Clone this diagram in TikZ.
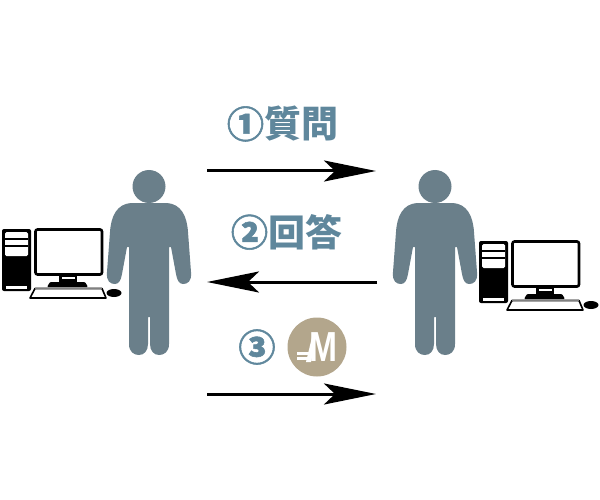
\documentclass[tikz,border=0pt]{standalone}
\usepackage{fontspec}
\newfontfamily\cjk{Noto Sans CJK JP}
\newfontfamily\cjkring[FakeBold=1.5]{Noto Sans CJK JP}
\newfontfamily\coinfont{Liberation Sans}
\usetikzlibrary{arrows.meta}
\definecolor{personc}{HTML}{6A7F8A}
\definecolor{labelc}{HTML}{5F879C}
\definecolor{coinc}{HTML}{B3A68C}
\tikzset{
    msg/.style={line width=3pt,-{Stealth[length=52pt,width=21pt,inset=11pt]}},
    lab/.style={text=labelc,font=\cjk\bfseries\fontsize{37}{37}\selectfont,inner sep=0pt},
    person/.pic={
        \fill[personc] (0,186.5) circle (16.5);
        \fill[personc] (-1,203) -- (18,203) .. controls (32,204) and (38,216) .. (39,232)
            -- (42,272) .. controls (43,282) and (38,284) .. (34,284)
            .. controls (30,284) and (28,280) .. (27,274) -- (22,247) -- (20,247) -- (20,344)
            .. controls (20,352) and (15,355) .. (10,355) .. controls (5,355) and (1,351) .. (1,344)
            -- (1,317) -- (-1,317) -- (-1,344) .. controls (-1,351) and (-5,355) .. (-10,355)
            .. controls (-15,355) and (-20,352) .. (-20,344) -- (-20,247) -- (-22,247) -- (-27,274)
            .. controls (-28,280) and (-30,284) .. (-34,284) .. controls (-38,284) and (-43,282) .. (-42,272)
            -- (-39,232) .. controls (-38,216) and (-32,204) .. (-18,203) -- cycle;
    },
    computer/.pic={
        % tower
        \fill[black,rounded corners=2pt] (2,229) rectangle (31,291);
        \fill[white,rounded corners=1.5pt] (5,232) rectangle (28,256);
        \fill[black] (5,238) rectangle (28,240);
        \fill[black] (5,245) rectangle (28,247);
        \fill[white] (6,286) rectangle (27,289);
        % monitor
        \draw[black,fill=white,line width=2.6pt,rounded corners=2pt] (35.5,229.5) rectangle (102,274.5);
        \fill[black] (59,275) rectangle (77,283);
        \fill[white] (62,277) rectangle (75,279);
        \fill[black,rounded corners=1pt] (47,287) -- (50,282) -- (85,282) -- (88,287) -- cycle;
        % keyboard
        \draw[black,fill=white,line width=1.6pt,line join=round] (35,288.5) -- (102,288.5) -- (106,298) -- (30,298) -- cycle;
        \draw[gray,line width=1.6pt] (35,288.5) -- (102,288.5);
        \fill[black] (114,293) ellipse (7.5 and 4);
    }
}
\begin{document}
\begin{tikzpicture}[x=1pt,y=-1pt]
    \useasboundingbox (0,0) rectangle (600,500);
    \pic at (0,0) {computer};
    \pic at (477,12) {computer};
    \pic at (149,0) {person};
    \pic at (435,0) {person};

    \node[lab] (ask) at (282.5,124) {{\cjkring ①}質問};
    \node[lab] (ans) at (286.5,232) {{\cjkring ②}回答};
    \node[lab] (pay) at (257,347) {{\cjkring ③}};
    \node[circle,fill=coinc,minimum size=59pt,inner sep=0pt] (coin) at (317,347) {};
    \node[text=white,font=\coinfont\bfseries\fontsize{42}{42}\selectfont,inner sep=0pt,xscale=.8] (coinm) at (323,347) {M};

    \coordinate (askl) at (207,171);
    \coordinate (askr) at (376,171);
    \coordinate (ansr) at (377,282);
    \coordinate (ansl) at (207,282);
    \coordinate (payl) at (207,394);
    \coordinate (payr) at (376,394);

    \draw[msg] (askl) -- (askr);
    \draw[msg] (ansr) -- (ansl);
    \draw[msg] (payl) -- (payr);

    % slanted leg and bars of the coin mark
    \fill[white] (306,362) -- (313,333) -- (317,333) -- (311,362) -- cycle;
    \fill[white] (297,352) rectangle (311,354.5);
    \fill[white] (297,357) rectangle (310,359.5);
\end{tikzpicture}
\end{document}
